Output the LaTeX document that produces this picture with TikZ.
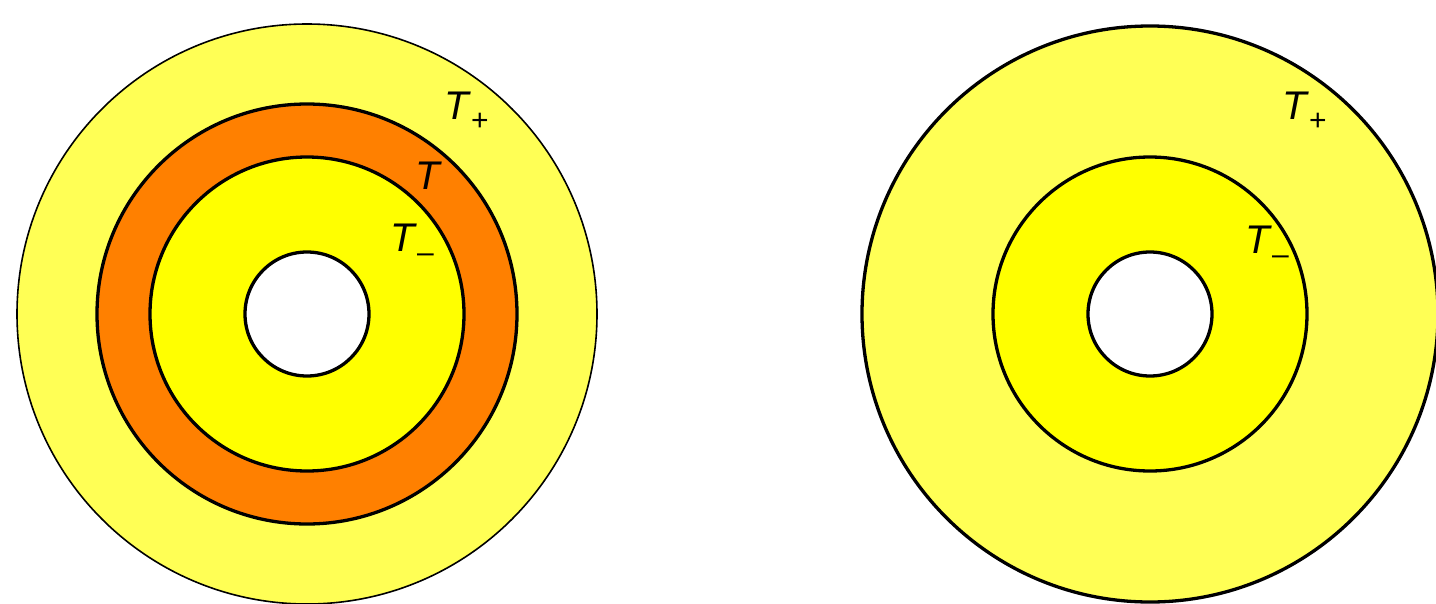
\documentclass[tikz,border=0pt]{standalone}
\usepackage{fontspec}
\setmainfont{Liberation Sans}
\definecolor{lightyel}{HTML}{FFFF55}
\definecolor{yel}{HTML}{FFFF00}
\definecolor{orng}{HTML}{FF8000}
\newcommand{\Tlab}[1]{\textit{T}\raisebox{-0.28em}{\fontsize{30}{32}\selectfont #1}}
\begin{document}
\begin{tikzpicture}[x=1pt,y=-1pt,
  ring/.style={draw=black,line width=3.3pt},
  thinring/.style={draw=black,line width=1.6pt},
  lab/.style={anchor=base west,inner sep=0pt,font=\fontsize{40}{42}\selectfont}]
\useasboundingbox (0,0) rectangle (1436,603);
\begin{scope}
\clip (0,0) rectangle (1436,603);
% left
\coordinate (cl) at (307,314);
\fill[lightyel] (cl) circle (290);
\draw[thinring] (cl) circle (290);
\filldraw[fill=orng,ring] (cl) circle (210);
\filldraw[fill=yel,ring] (cl) circle (157);
\filldraw[fill=white,ring] (cl) circle (62);
% right
\coordinate (cr) at (1150,314);
\filldraw[fill=lightyel,ring] (cr) circle (288);
\filldraw[fill=yel,ring] (cr) circle (157);
\filldraw[fill=white,ring] (cr) circle (62);
\end{scope}
\node[lab] (tp1) at (444,119) {\Tlab{+}};
\node[lab] (t1) at (415,189) {\textit{T}};
\node[lab] (tm1) at (390,251) {\Tlab{–}};
\node[lab] (tp2) at (1282,119) {\Tlab{+}};
\node[lab] (tm2) at (1245,253) {\Tlab{–}};
\end{tikzpicture}
\end{document}
